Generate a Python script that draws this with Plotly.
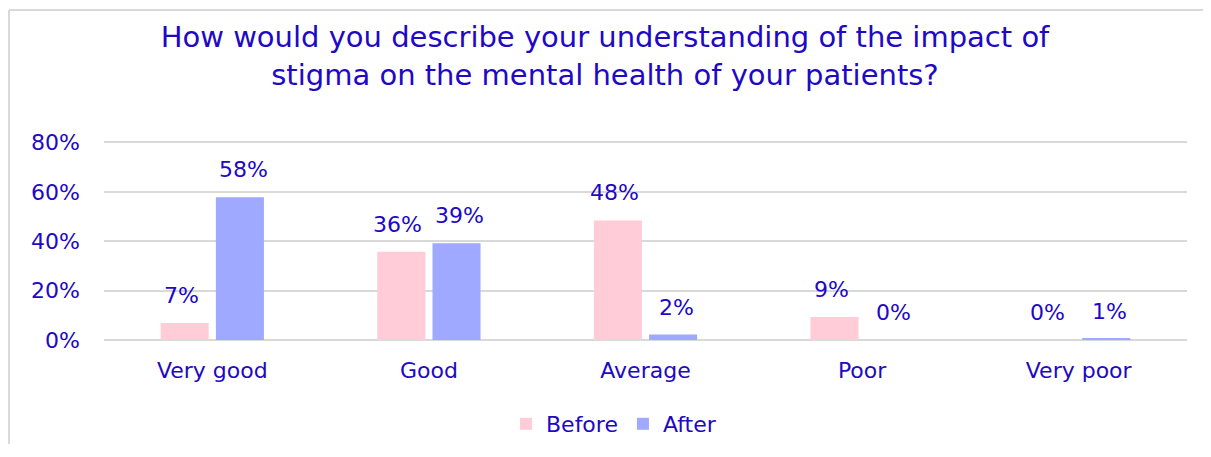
import plotly.graph_objects as go

categories = ["Very good", "Good", "Average", "Poor", "Very poor"]
before = [0.069, 0.357, 0.484, 0.093, 0.0]
after = [0.578, 0.392, 0.022, 0.0, 0.006]
series_names = ["Before", "After"]
y_ticks = [0, 0.2, 0.4, 0.6, 0.8]
y_tick_labels = ["0%", "20%", "40%", "60%", "80%"]
title_text = "How would you describe your understanding of the impact of<br>stigma on the mental health of your patients?"

TXT = "#2108C4"
PINK = "#FFCCD8"
BLUE = "#9EA9FF"
GRID = "#D9D9D9"
FONT = "DejaVu Sans"

# page body has an 8px margin, so the figure is sized/placed to fit inside the window
W, H = 1195, 436
L, R, T, B = 96, 16, 132, 104
PW = W - L - R
PH = H - T - B

fig = go.Figure()
for name, vals, col, shift in [(series_names[0], before, PINK, -31), (series_names[1], after, BLUE, 31)]:
    fig.add_trace(go.Bar(x=categories, y=vals, name=name, marker=dict(color=col, line=dict(width=0))))
    for c, v in zip(categories, vals):
        fig.add_annotation(x=c, y=v, text=f"{round(v*100):.0f}%", showarrow=False,
                           xshift=shift, yshift=13, yanchor="bottom",
                           font=dict(family=FONT, size=22, color=TXT))

fig.update_layout(
    width=W, height=H,
    margin=dict(l=L, r=R, t=T, b=B),
    paper_bgcolor="white", plot_bgcolor="white",
    barmode="group", bargap=0.49, bargroupgap=0.13,
    title=dict(text=title_text, x=(605 - 8) / W, xref="container", xanchor="center",
               y=1 - 39 / H, yref="container", yanchor="middle",
               font=dict(family=FONT, size=29, color=TXT)),
    font=dict(family=FONT, size=22, color=TXT),
    showlegend=True,
    legend=dict(orientation="h", x=(614 - 8) / W, xref="container", xanchor="center",
                y=1 - (424 - 8) / H, yref="container", yanchor="middle",
                font=dict(family=FONT, size=22, color=TXT), itemwidth=30,
                bgcolor="rgba(0,0,0,0)"),
    xaxis=dict(showgrid=False, showline=False, ticks="", ticklabelstandoff=15,
               tickfont=dict(family=FONT, size=22, color=TXT)),
    yaxis=dict(range=[0, 0.81], tickvals=y_ticks, ticktext=y_tick_labels,
               showgrid=True, gridcolor=GRID, gridwidth=2, zeroline=True,
               zerolinecolor=GRID, zerolinewidth=2, ticks="", ticklabelstandoff=23,
               tickfont=dict(family=FONT, size=22, color=TXT)),
    shapes=[
        dict(type="line", xref="paper", yref="paper", x0=(1 - L) / PW, x1=1.2,
             y0=(H - B - 2) / PH, y1=(H - B - 2) / PH, line=dict(color=GRID, width=2)),
        dict(type="line", xref="paper", yref="paper", x0=(1 - L) / PW, x1=(1 - L) / PW,
             y0=(H - B - 2) / PH, y1=-1.0, line=dict(color=GRID, width=2)),
    ],
)

fig.write_html("out.html")
